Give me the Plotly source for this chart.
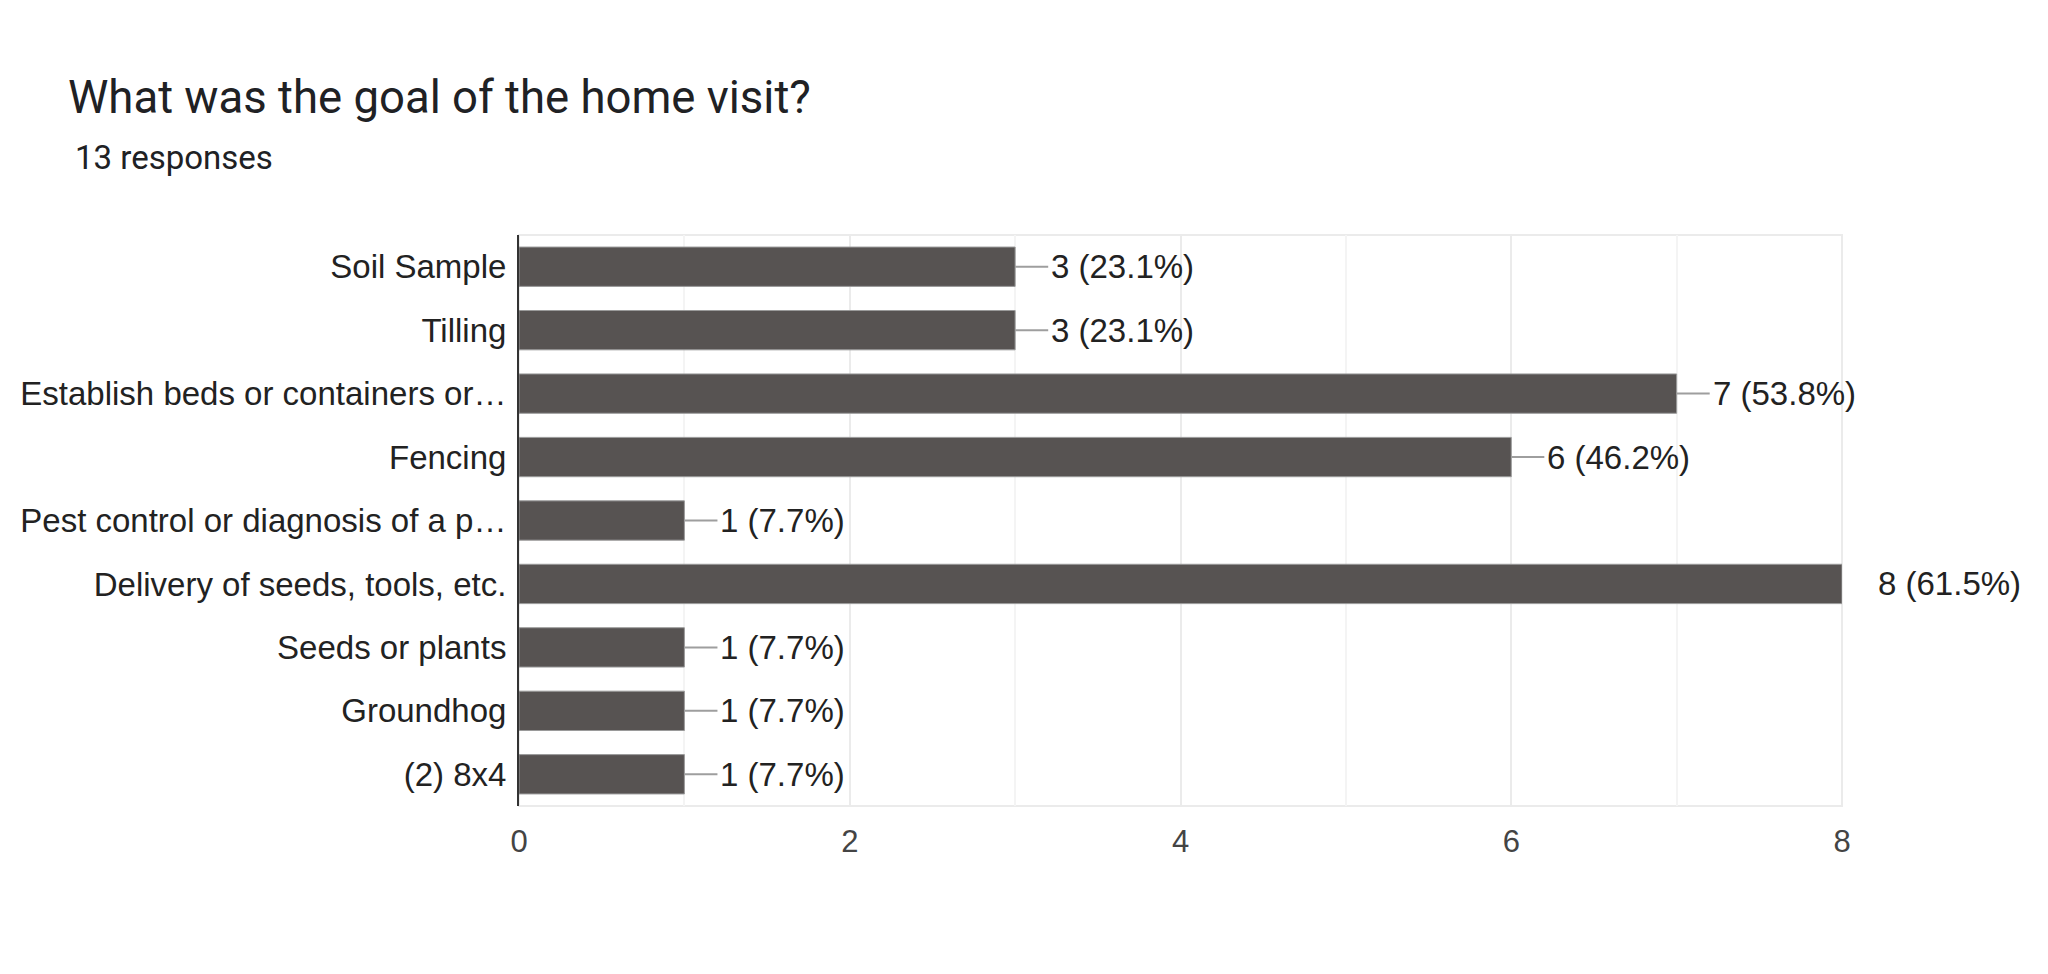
import plotly.graph_objects as go

# survey results
categories = [
    "Soil Sample",
    "Tilling",
    "Establish beds or containers or…",
    "Fencing",
    "Pest control or diagnosis of a p…",
    "Delivery of seeds, tools, etc.",
    "Seeds or plants",
    "Groundhog",
    "(2) 8x4",
]
counts = [3, 3, 7, 6, 1, 8, 1, 1, 1]
total = 13
x_ticks = [0, 2, 4, 6, 8]

title_text = "What was the goal of the home visit?"
subtitle_text = f"{total} responses"

# page body has an 8px margin, so everything is placed 8px up/left
W, H = 2048, 974
ml, mt = 501, 227
plot_w, plot_h = 1333, 571
mr = W - ml - plot_w
mb = H - mt - plot_h

bar_color = "#575352"
lead = 0.2  # leader line length in x units (~33px)
chart_font = "Liberation Sans, Arial"

labels = [f"{c} ({c / total * 100:.1f}%)" for c in counts]

fig = go.Figure(go.Bar(
    x=counts,
    y=categories,
    orientation="h",
    width=0.62,
    marker=dict(color=bar_color, line=dict(color="#9a9a9a", width=1)),
    error_x=dict(type="data", symmetric=False,
                 array=[lead] * len(counts), arrayminus=[0] * len(counts),
                 color="#9e9e9e", thickness=2, width=0),
    hoverinfo="skip",
))

for cat, c, lab in zip(categories, counts, labels):
    fig.add_annotation(x=c, y=cat, text=lab, showarrow=False,
                       xanchor="left", yanchor="middle", xshift=34,
                       font=dict(family=chart_font, size=33, color="#222222"))

fig.add_annotation(xref="paper", yref="paper",
                   x=(52 - ml) / plot_w, y=(plot_h + 227 - 150) / plot_h,
                   text=subtitle_text, showarrow=False,
                   xanchor="left", yanchor="middle",
                   font=dict(family="Roboto", size=33, color="#202124"))

# light frame round the plot area
fig.add_shape(type="rect", xref="paper", yref="paper", x0=0, y0=0, x1=1, y1=1,
              line=dict(color="#ebebeb", width=2), layer="below")

fig.update_layout(
    width=W, height=H,
    margin=dict(l=ml, r=mr, t=mt, b=mb),
    plot_bgcolor="white",
    paper_bgcolor="white",
    showlegend=False,
    title=dict(text=title_text, xref="container", x=60 / W, xanchor="left",
               yref="container", y=1 - 89 / H, yanchor="middle",
               font=dict(family="Roboto", size=45.5, color="#202124")),
    xaxis=dict(range=[0, 8], tickvals=x_ticks, showgrid=True, gridcolor="#ebebeb",
               gridwidth=2, zeroline=False, showline=False, ticks="",
               minor=dict(dtick=1, showgrid=True, gridcolor="#f4f4f4", gridwidth=2),
               ticklabelstandoff=14,
               tickfont=dict(family=chart_font, size=31, color="#444444")),
    yaxis=dict(autorange="reversed", showgrid=False, zeroline=False,
               showline=True, linecolor="#333333", linewidth=2, ticks="",
               ticklabelstandoff=4,
               tickfont=dict(family=chart_font, size=33, color="#222222")),
)

fig.write_html("out.html")
